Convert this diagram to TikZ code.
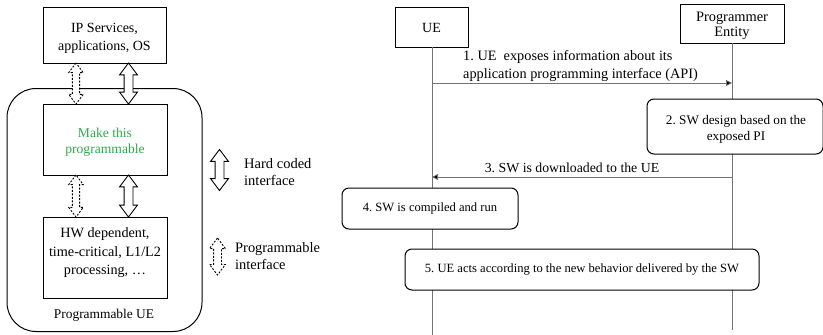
\documentclass[tikz,border=0pt]{standalone}
\usepackage{fontspec}
\setmainfont{Liberation Serif}
\usetikzlibrary{shapes.arrows,arrows.meta,calc}
\definecolor{lifeline}{gray}{0.45}
\definecolor{mkgreen}{RGB}{50,170,75}
\begin{document}
\begin{tikzpicture}[x=1pt,y=-1pt,
  every node/.style={font=\fontsize{14}{18}\selectfont},
  small/.style={font=\fontsize{12.6}{17}\selectfont},
  blk/.style={draw, line width=1pt, fill=white, inner sep=0pt},
  rblk/.style={blk, rounded corners=7pt},
  ttl/.style={inner sep=0pt, align=center},
  hollow/.style={shape=double arrow, draw, fill=white, line width=0.9pt,
    rotate=90, inner xsep=0pt, inner ysep=4pt,
    double arrow head extend=4.5pt, double arrow tip angle=74},
  soft/.style={hollow, inner ysep=3.2pt, double arrow head extend=3.6pt,
    dash pattern=on 2pt off 1.5pt},
  life/.style={draw=lifeline, line width=0.8pt},
  msg/.style={draw=lifeline, line width=0.8pt, -{Triangle[length=6pt,width=6pt,fill=black]}},
  txt/.style={inner sep=0pt, align=left}
]
\useasboundingbox (0,0) rectangle (823,335);

% ---- programmable UE stack ----
\node[draw, line width=1pt, rounded corners=29pt, minimum width=195pt, minimum height=243pt] (frame) at (104.5,210) {};
\node[txt, font=\fontsize{13.4}{17}\selectfont] (framelbl) at (104,315) {Programmable UE};

\node[blk, minimum width=123pt, minimum height=56pt] (ip) at (104.5,35) {};
\node[ttl] (ipt) at (104.5,38) {IP Services,\\applications, OS};
\node[blk, minimum width=124pt, minimum height=71pt] (mk) at (105,139.5) {};
\node[ttl, text=mkgreen, font=\fontsize{13.6}{16.5}\selectfont] (mkt) at (105,142) {Make this\\programmable};
\node[blk, minimum width=124pt, minimum height=81pt] (hw) at (105,257.5) {};
\node[ttl, font=\fontsize{14.2}{18.5}\selectfont] (hwt) at (105,252.7) {HW dependent,\\time-critical, L1/L2\\processing, \dots};

\path (76,0) coordinate (cA) (128.5,0) coordinate (cB);
\node[soft, minimum height=41pt] (a1) at ($(ip.south -| cA)!0.5!(mk.north -| cA)$) {};
\node[hollow, minimum height=41pt] (a2) at ($(ip.south -| cB)!0.5!(mk.north -| cB)$) {};
\node[soft, minimum height=42pt] (a3) at ($(mk.south -| cA)!0.5!(hw.north -| cA)$) {};
\node[hollow, minimum height=42pt] (a4) at ($(mk.south -| cB)!0.5!(hw.north -| cB)$) {};

% ---- legend ----
\node[hollow, minimum height=41pt] (lg1) at (219.5,170) {};
\node[txt, anchor=west, font=\fontsize{14.5}{17}\selectfont] (lg1t) at (244,172.2) {Hard coded\\interface};
\node[soft, minimum height=37pt, inner ysep=3.5pt, double arrow head extend=4pt] (lg2) at (217.5,256.5) {};
\node[txt, anchor=west, font=\fontsize{14.4}{17}\selectfont] (lg2t) at (235,256.3) {Programmable\\interface};

% ---- sequence ----
\node[blk, minimum width=73pt, minimum height=40pt] (ue) at (431.5,27) {};
\node[ttl] (uet) at (431.5,27.5) {UE};
\node[blk, minimum width=104pt, minimum height=39pt] (pe) at (732,23.5) {};
\node[ttl, font=\fontsize{14.4}{14.3}\selectfont] (pet) at (732,25.7) {Programmer\\Entity};
\coordinate (ueL) at (432,47);
\coordinate (peL) at (732,43);
\coordinate (ueB) at (432,335);
\coordinate (peB) at (732,330);
\draw[life] (ueL) -- (ueB);
\draw[life] (peL) -- (peB);

\path (0,83) coordinate (r1) (0,177) coordinate (r3);
\draw[msg] (ueL |- r1) -- (peL |- r1);
\node[txt, anchor=south west, font=\fontsize{14.3}{17.6}\selectfont] (m1) at (463,81.3) {1.\ UE\ \ exposes information about its\\application programming interface (API)};
\draw[msg] (peL |- r3) -- (ueL |- r3);
\node[txt, anchor=south, font=\fontsize{13.8}{17}\selectfont] (m3) at (572,172.5) {3.\ SW is downloaded to the UE};

\node[rblk, minimum width=176pt, minimum height=55pt] (s2) at (735,126.5) {};
\node[ttl, font=\fontsize{13.2}{16}\selectfont] (s2t) at (736,129) {2.\ SW design based on the\\exposed PI};
\node[rblk, small, minimum width=176pt, minimum height=41pt] (s4) at (430,208.5) {4.\ SW is compiled and run};
\node[rblk, small, minimum width=354pt, minimum height=41pt] (s5) at (582,269.5) {5.\ UE acts according to the new behavior delivered by the SW};
\end{tikzpicture}
\end{document}
